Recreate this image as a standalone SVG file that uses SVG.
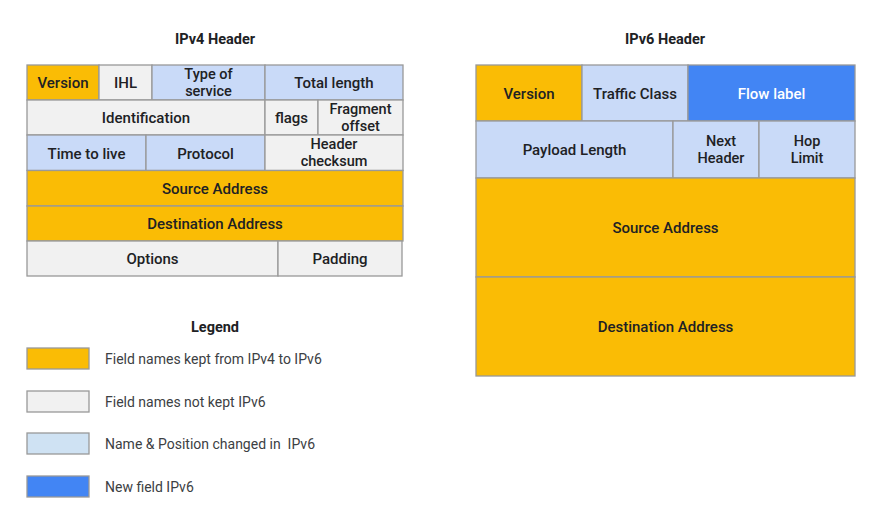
<svg xmlns="http://www.w3.org/2000/svg" width="878" height="517" viewBox="0 0 878 517">
<style>
.k{fill:#FABC05}.g{fill:#F1F1F1}.l{fill:#C9DAF8}.b{fill:#4285F4}
.f rect{stroke:#999;stroke-width:1.3}
text{font-family:Roboto,"Liberation Sans",sans-serif;font-size:15px;font-weight:500;fill:#202124;text-anchor:middle;dominant-baseline:central}
.m{font-size:14.5px}
.w{fill:#fff}
.t{font-size:14.5px;font-weight:700}
.lg{font-size:14px;font-weight:400;text-anchor:start;fill:#3c4043;white-space:pre}
</style>
<rect width="878" height="517" fill="#fff"/>
<text class="t" x="215" y="39">IPv4 Header</text>
<text class="t" x="665" y="39">IPv6 Header</text>
<g id="ipv4" class="f">
<g id="v4-version"><rect class="k" x="27" y="65" width="72" height="35"/><text x="63" y="83">Version</text></g>
<g id="v4-ihl"><rect class="g" x="99" y="65" width="53" height="35"/><text x="125.5" y="83">IHL</text></g>
<g id="v4-tos"><rect class="l" x="152" y="65" width="113" height="35"/><text class="m" x="208.5" y="74">Type of</text><text class="m" x="208.5" y="91.2">service</text></g>
<g id="v4-totlen"><rect class="l" x="265" y="65" width="138" height="35"/><text x="334" y="83">Total length</text></g>
<g id="v4-ident"><rect class="g" x="27" y="100" width="238" height="35"/><text x="146" y="118">Identification</text></g>
<g id="v4-flags"><rect class="g" x="265" y="100" width="53" height="35"/><text x="291.5" y="118">flags</text></g>
<g id="v4-frag"><rect class="g" x="318" y="100" width="85" height="35"/><text class="m" x="360.5" y="109">Fragment</text><text class="m" x="360.5" y="126.2">offset</text></g>
<g id="v4-ttl"><rect class="l" x="27" y="135" width="119" height="35.5"/><text x="86.5" y="153.5">Time to live</text></g>
<g id="v4-proto"><rect class="l" x="146" y="135" width="119" height="35.5"/><text x="205.5" y="153.5">Protocol</text></g>
<g id="v4-cksum"><rect class="g" x="265" y="135" width="138" height="35.5"/><text class="m" x="334" y="144.5">Header</text><text class="m" x="334" y="161.7">checksum</text></g>
<g id="v4-src"><rect class="k" x="27" y="170.5" width="376" height="35.5"/><text x="215" y="188.5">Source Address</text></g>
<g id="v4-dst"><rect class="k" x="27" y="206" width="376" height="35"/><text x="215" y="224">Destination Address</text></g>
<g id="v4-opt"><rect class="g" x="27" y="241" width="251" height="35"/><text x="152.5" y="259">Options</text></g>
<g id="v4-pad"><rect class="g" x="278" y="241" width="124" height="35"/><text x="340" y="259">Padding</text></g>
</g>
<g id="ipv6" class="f">
<g id="v6-version"><rect class="k" x="476" y="65" width="106" height="56"/><text x="529" y="94">Version</text></g>
<g id="v6-tc"><rect class="l" x="582" y="65" width="106" height="56"/><text x="635" y="94">Traffic Class</text></g>
<g id="v6-flow"><rect class="b" x="688" y="65" width="167" height="56"/><text class="w" x="771.5" y="94">Flow label</text></g>
<g id="v6-plen"><rect class="l" x="476" y="121" width="197" height="57"/><text x="574.5" y="150">Payload Length</text></g>
<g id="v6-nh"><rect class="l" x="673" y="121" width="86" height="57"/><text class="m" x="721" y="141">Next</text><text class="m" x="721" y="158.2">Header</text></g>
<g id="v6-hop"><rect class="l" x="759" y="121" width="96" height="57"/><text class="m" x="807" y="141">Hop</text><text class="m" x="807" y="158.2">Limit</text></g>
<g id="v6-src"><rect class="k" x="476" y="178" width="379" height="99"/><text x="665.5" y="228">Source Address</text></g>
<g id="v6-dst"><rect class="k" x="476" y="277" width="379" height="99"/><text x="665.5" y="327">Destination Address</text></g>
</g>
<g id="legend" class="f">
<text class="t" x="215" y="327">Legend</text>
<g id="lg1"><rect class="k" x="27" y="348" width="62" height="21"/><text class="lg" x="105" y="359">Field names kept from IPv4 to IPv6</text></g>
<g id="lg2"><rect class="g" x="27" y="391" width="62" height="21"/><text class="lg" x="105" y="402">Field names not kept IPv6</text></g>
<g id="lg3"><rect style="fill:#CFE2F3" x="27" y="433" width="62" height="21"/><text class="lg" x="105" y="444" xml:space="preserve">Name &amp; Position changed in  IPv6</text></g>
<g id="lg4"><rect class="b" x="27" y="476" width="62" height="21"/><text class="lg" x="105" y="487">New field IPv6</text></g>
</g>
<g id="connectors"/>
</svg>
